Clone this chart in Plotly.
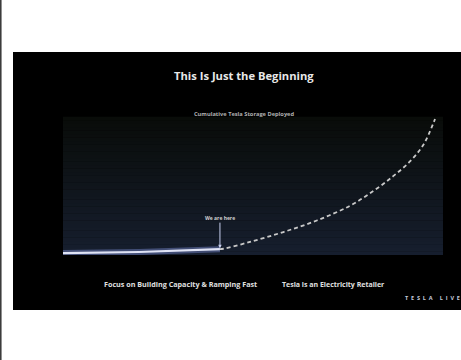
import plotly.graph_objects as go

# ---- data (relative time index vs. relative cumulative storage) ----
actual_t = [0, 20, 41.3]
actual_storage = [1.4, 2.2, 4.3]
proj_t = [41.3, 42.2, 49.2, 58.0, 66.8, 75.5, 81.7, 86.9, 91.3, 94.8, 97.9]
proj_storage = [4.3, 4.6, 9.6, 16.9, 25.4, 36.2, 47.1, 58.0, 68.8, 80.9, 100]

title_text = "This Is Just the Beginning"
subtitle_text = "Cumulative Tesla Storage Deployed"
marker_text = "We are here"
left_caption = "Focus on Building Capacity & Ramping Fast"
right_caption = "Tesla is an Electricity Retailer"

# plot area geometry (pixels)
W, H = 461, 360
L, R, T, B = 63, 443, 117, 255


def px(x):
    return (x - L) / (R - L)


def py(y):
    return (B - y) / (B - T)


FONT = "Open Sans"

fig = go.Figure()

# glow under actual line
fig.add_trace(go.Scatter(x=actual_t, y=actual_storage, mode="lines",
                         line=dict(color="rgba(150,170,255,0.35)", width=6),
                         hoverinfo="skip", showlegend=False))
fig.add_trace(go.Scatter(x=actual_t, y=actual_storage, mode="lines",
                         line=dict(color="#dfe3f5", width=2.2),
                         showlegend=False))
fig.add_trace(go.Scatter(x=proj_t, y=proj_storage, mode="lines",
                         line=dict(color="#c9c9c9", width=1.8, dash="4px,3px", shape="spline"),
                         showlegend=False))

shapes = []
# left page edge line
shapes.append(dict(type="line", xref="paper", yref="paper",
                   x0=px(0.8), x1=px(0.8), y0=py(0), y1=py(H),
                   line=dict(color="#333333", width=1.5), layer="below"))
# black slide
shapes.append(dict(type="rect", xref="paper", yref="paper",
                   x0=px(13), x1=px(W + 5), y0=py(310), y1=py(52),
                   fillcolor="#000000", line=dict(width=0), layer="below"))
# gradient background of chart area
n = 40
top = (9, 12, 9)
bot = (22, 30, 46)
for i in range(n):
    f = i / (n - 1)
    c = tuple(int(round(bot[k] + (top[k] - bot[k]) * f)) for k in range(3))
    shapes.append(dict(type="rect", xref="x domain", yref="y domain",
                       x0=0, x1=1, y0=i / n, y1=(i + 1) / n + 0.002,
                       fillcolor="rgb(%d,%d,%d)" % c, line=dict(width=0), layer="below"))


def label(text, x, y, size, color="#e0e0e0", xanchor="center"):
    return dict(text=text, xref="paper", yref="paper", x=px(x), y=py(y),
                xanchor=xanchor, yanchor="middle", showarrow=False,
                font=dict(family=FONT, size=size, color=color, weight="bold"))


annotations = [
    label(title_text, 244, 75, 11.2, "#e8e8e8"),
    label(subtitle_text, 244, 114, 5.7, "#b0b0b0"),
    dict(text=marker_text, x=actual_t[-1], y=actual_storage[-1], xref="x", yref="y",
         showarrow=True, ax=0, ay=-31, arrowhead=2, arrowsize=0.7, arrowwidth=1,
         arrowcolor="#c8d0f0", standoff=1,
         font=dict(family=FONT, size=5, color="#d0d0d0", weight="bold")),
    label(left_caption, 180, 284, 7.2),
    label(right_caption, 333, 284, 7.0),
    label("T  E  S  L  A     L  I  V  E", 403, 298, 5.5, "#c8ccdd", xanchor="left"),
]

fig.update_layout(
    width=W, height=H,
    margin=dict(l=L, r=W - R, t=T, b=H - B, pad=0),
    paper_bgcolor="#ffffff",
    plot_bgcolor="rgba(0,0,0,0)",
    shapes=shapes,
    annotations=annotations,
    xaxis=dict(range=[0, 100], visible=False, fixedrange=True),
    yaxis=dict(range=[0, 101.5], visible=False, fixedrange=True),
    showlegend=False,
)

fig.write_html("out.html", config={"displayModeBar": False})
